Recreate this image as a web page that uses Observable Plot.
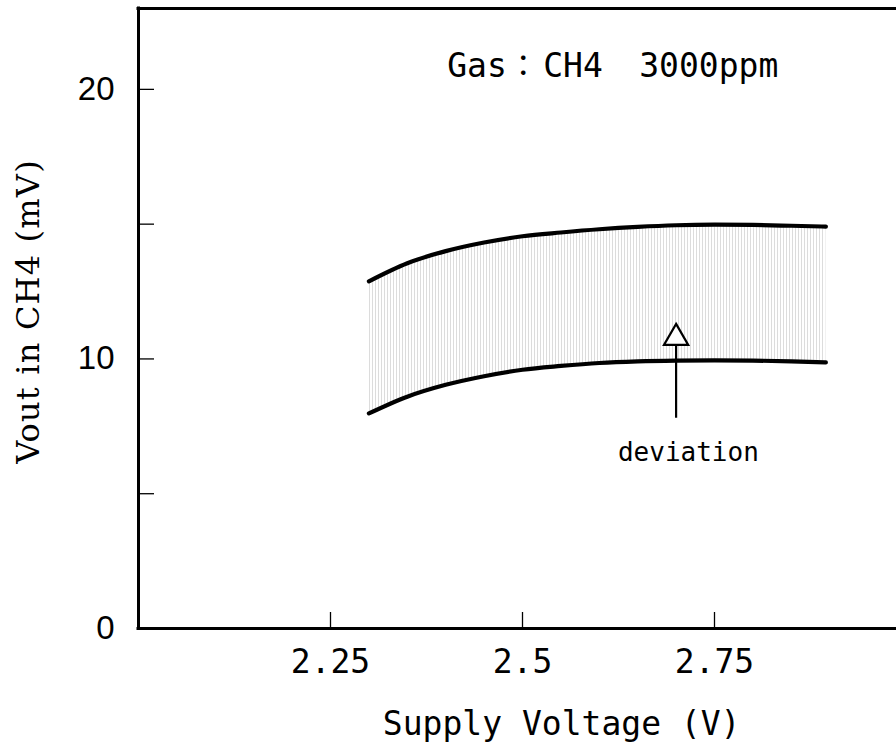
<!DOCTYPE html>
<html><head><meta charset="utf-8">
<script src="https://cdn.jsdelivr.net/npm/d3@7"></script>
<script src="https://cdn.jsdelivr.net/npm/@observablehq/plot@0.6"></script>
<style>
html,body{margin:0;padding:0;background:#fff;}
#chart{width:896px;height:749px;overflow:hidden;}
#chart svg{max-width:none !important;}
</style></head><body><div id="chart"></div>
<script>
// ---- data ----
const voltage   = [2.3, 2.35, 2.4, 2.45, 2.5, 2.55, 2.6, 2.65, 2.7, 2.75, 2.8, 2.85, 2.895];
const upperVout = [12.88, 13.55, 14.0, 14.32, 14.55, 14.69, 14.81, 14.9, 14.96, 14.98, 14.97, 14.94, 14.91];
const lowerVout = [7.98, 8.6, 9.04, 9.36, 9.6, 9.74, 9.85, 9.91, 9.94, 9.95, 9.94, 9.91, 9.87];
const xTicks = [2.25, 2.5, 2.75];
const yTicks = [5, 10, 15, 20];
const yTickLabels = [0, 10, 20];
const xDomain = [2.0, 3.0];
const yDomain = [0, 23];
const xLabel = "Supply Voltage (V)";
const yLabel = "Vout in CH4 (mV)";
const titleStart = [
  {x: 2.402, text: "Gas"},
  {x: 2.527, text: "CH4"},
  {x: 2.652, text: "3000ppm"}
];
const titleColon = [{x: 2.501, text: "："}];
const titleY = 20.85;
const arrowData = [{x: 2.7, y1: 7.8, y2: 10.5, head: 10.78}];
const annotation = [{x: 2.716, y: 6.53, text: "deviation"}];
const xLabelPos = 2.551;

const rows = voltage.map((v, i) => ({v, hi: upperVout[i], lo: lowerVout[i]}));
const mono = "DejaVu Sans Mono";

const plot = Plot.plot({
  width: 906,
  height: 749,
  marginLeft: 138,
  marginRight: 0,
  marginTop: 8,
  marginBottom: 121,
  style: {background: "white", fontFamily: mono, color: "black", maxWidth: "none"},
  x: {domain: xDomain},
  y: {domain: yDomain},
  marks: [
    Plot.areaY(rows, {x: "v", y1: "lo", y2: "hi", curve: "monotone-x", fill: "url(#vstripes)"}),
    Plot.line(rows, {x: "v", y: "hi", curve: "monotone-x", stroke: "black", strokeWidth: 4.2, strokeLinecap: "round"}),
    Plot.line(rows, {x: "v", y: "lo", curve: "monotone-x", stroke: "black", strokeWidth: 4.2, strokeLinecap: "round"}),
    // frame (left, top, bottom)
    Plot.ruleY(yDomain, {stroke: "black", strokeWidth: 3, strokeLinecap: "square"}),
    Plot.ruleX([xDomain[0]], {stroke: "black", strokeWidth: 3, strokeLinecap: "square"}),
    // inward ticks
    Plot.tickX(xTicks, {x: d => d, insetTop: 604, stroke: "black", strokeWidth: 1.3}),
    Plot.tickY(yTicks, {y: d => d, insetRight: 752, stroke: "black", strokeWidth: 1.3}),
    // tick labels
    Plot.axisX(xTicks, {tickSize: 0, tickPadding: 21, fontSize: 33, fontFamily: mono, tickFormat: d => String(d)}),
    Plot.axisY(yTickLabels, {tickSize: 0, tickPadding: 24, fontSize: 33, fontFamily: "Liberation Sans", tickFormat: d => String(d), label: null}),
    // axis labels
    Plot.text([xLabel], {x: xLabelPos, frameAnchor: "bottom", dy: 96, text: d => d, fontSize: 33, fontFamily: mono, lineAnchor: "middle", textAnchor: "middle"}),
    Plot.text([yLabel], {frameAnchor: "left", dx: -110, dy: -7, rotate: -90, text: d => d, fontSize: 32, fontFamily: "DejaVu Serif", lineAnchor: "middle", textAnchor: "middle"}),
    // title
    Plot.text(titleStart, {x: "x", y: () => titleY, text: "text", textAnchor: "start", fontSize: 33, fontFamily: mono, lineAnchor: "middle"}),
    Plot.text(titleColon, {x: "x", y: () => titleY, text: "text", textAnchor: "middle", fontSize: 30, fontFamily: "Noto Sans CJK KR", lineAnchor: "middle"}),
    // arrow
    Plot.ruleX(arrowData, {x: "x", y1: "y1", y2: "y2", stroke: "black", strokeWidth: 2.2}),
    Plot.dot(arrowData, {x: "x", y: "head", symbol: "triangle", r: 9, fill: "white", stroke: "black", strokeWidth: 2.2}),
    Plot.text(annotation, {x: "x", y: "y", text: "text", fontSize: 26, fontFamily: mono, lineAnchor: "middle", textAnchor: "middle"})
  ]
});

const svg = d3.select(plot);
svg.selectAll("text").filter(function() { return this.textContent === yLabel; }).style("letter-spacing", "1.2px");
const defs = svg.insert("defs", ":first-child");
const pat = defs.append("pattern").attr("id", "vstripes").attr("patternUnits", "userSpaceOnUse").attr("width", 3).attr("height", 10);
pat.append("rect").attr("x", 0).attr("y", 0).attr("width", 1).attr("height", 10).attr("fill", "#dcdcdc");

document.getElementById("chart").appendChild(plot);
</script>
</body></html>
